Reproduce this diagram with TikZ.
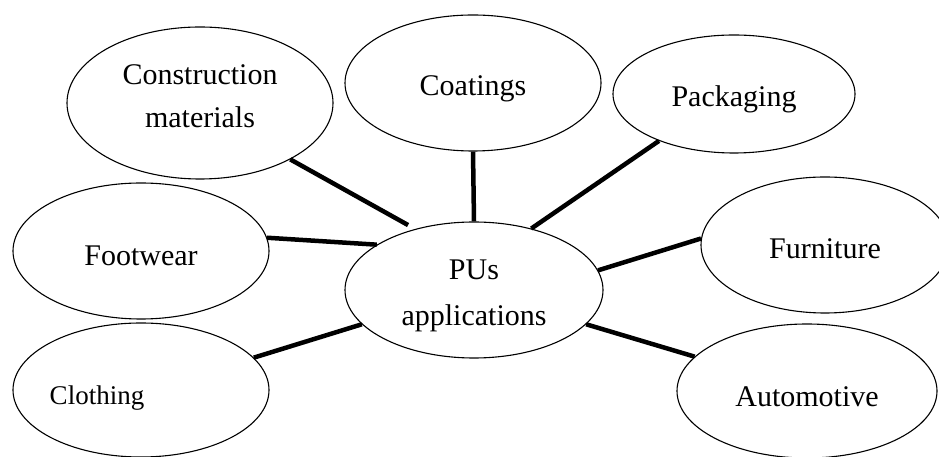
\documentclass[tikz,border=0pt]{standalone}
\usepackage{fontspec}
\setmainfont{Liberation Serif}
\usetikzlibrary{shapes.geometric}
\newcommand\oneline[2]{\raisebox{#1}[0pt][0pt]{\makebox[0pt]{#2}}}
\begin{document}
\begin{tikzpicture}[x=1pt,y=1pt,
  bubble/.style={ellipse, draw, line width=1.1pt, inner sep=0pt,
                 font=\fontsize{30}{36}\selectfont},
  link/.style={line width=4.5pt}]
\useasboundingbox (0,0) rectangle (939,457);
\node[bubble, minimum width=258pt, minimum height=136pt] (pu) at (474,167)
  {\oneline{10pt}{PUs}\oneline{-36pt}{applications}};
\node[bubble, minimum width=266pt, minimum height=152pt] (cm) at (200,354)
  {\oneline{18.5pt}{Construction}\oneline{-25pt}{materials}};
\node[bubble, minimum width=256pt, minimum height=136pt] (co) at (473,374) {\oneline{-13pt}{Coatings}};
\node[bubble, minimum width=242pt, minimum height=118pt] (pk) at (734,363) {\oneline{-13pt}{Packaging}};
\node[bubble, minimum width=256pt, minimum height=136pt] (fw) at (141,206) {\oneline{-15pt}{Footwear}};
\node[bubble, minimum width=248pt, minimum height=136pt] (fu) at (825,212) {\oneline{-14pt}{Furniture}};
\node[bubble, minimum width=256pt, minimum height=134pt] (cl) at (141,67)
  {\oneline{-15pt}{\fontsize{27}{32}\selectfont Clothing\hspace*{88pt}}};
\node[bubble, minimum width=260pt, minimum height=134pt] (au) at (807,66) {\oneline{-16pt}{Automotive}};
\draw[link, shorten >=8pt] (cm.-32) -- (pu.134);
\draw[link] (co.-90) -- (pu.90);
\draw[link] (pk.212) -- (pu.47);
\draw[link] (fw.6) -- (pu.155);
\draw[link] (cl.16) -- (pu.197);
\draw[link] (fu.177) -- (pu.9);
\draw[link] (au.163) -- (pu.-17);
\end{tikzpicture}
\end{document}
